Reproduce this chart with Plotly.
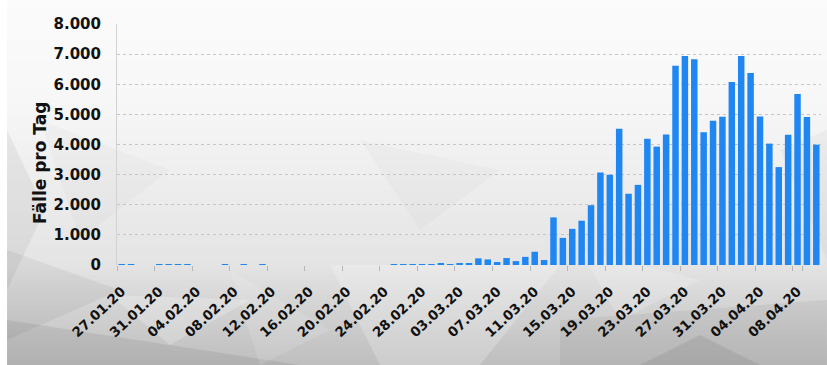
import pandas as pd
import plotly.graph_objects as go

# Daily reported cases, 27.01.2020 - 10.04.2020
dates = pd.date_range("2020-01-27", "2020-04-10", freq="D").strftime("%d.%m.%y").tolist()
cases = [
    1, 3, 0, 0, 1, 3, 2, 2, 0, 0,            # 27.01 - 05.02
    0, 1, 0, 1, 0, 2, 0, 0, 0, 0,            # 06.02 - 15.02
    0, 0, 0, 0, 0, 0, 0, 0, 0, 12,           # 16.02 - 25.02
    14, 19, 10, 31, 45, 29, 37, 62, 220, 185,  # 26.02 - 06.03
    100, 230, 130, 270, 440, 165, 1580, 900, 1200, 1470,  # 07.03 - 16.03
    1985, 3070, 2995, 4525, 2365, 2660, 4190, 3930, 4335, 6615,  # 17.03 - 26.03
    6935, 6830, 4405, 4790, 4925, 6075, 6935, 6370, 4930, 4030,  # 27.03 - 05.04
    3250, 4320, 5680, 4910, 3995,            # 06.04 - 10.04
]
tick_labels = dates[::4]

W, H = 827, 365
ML, MR, MT, MB = 117, 6, 24, 100
PW, PH = W - ML - MR, H - MT - MB

def px(x, y):
    """pixel position -> paper coordinates"""
    return (x - ML) / PW, (H - MB - y) / PH

def poly(points, color):
    pts = [px(x, y) for x, y in points]
    d = "M " + " L ".join(f"{a:.4f},{b:.4f}" for a, b in pts) + " Z"
    return dict(type="path", xref="paper", yref="paper", path=d,
                fillcolor=color, line=dict(width=0), layer="below")

shapes = []
# soft grey backdrop, brighter at the top
stops = [(0, 251), (100, 247), (160, 240), (265, 228), (300, 214), (365, 190)]
def grey_at(y):
    for (y0, g0), (y1, g1) in zip(stops, stops[1:]):
        if y0 <= y <= y1:
            return g0 + (g1 - g0) * (y - y0) / (y1 - y0)
    return stops[-1][1]

step = 5
for y in range(0, H, step):
    g = int(round(grey_at(y + step / 2)))
    shapes.append(poly([(7, y), (W, y), (W, y + step + 0.6), (7, y + step + 0.6)],
                       f"rgb({g},{g},{g})"))

# faceted low-poly overlay
facets = [
    ([(7, 130), (45, 210), (7, 290)], "rgba(0,0,0,0.05)"),
    ([(7, 250), (120, 290), (7, 340)], "rgba(0,0,0,0.05)"),
    ([(7, 320), (300, 365), (7, 365)], "rgba(0,0,0,0.07)"),
    ([(110, 295), (250, 300), (170, 345)], "rgba(255,255,255,0.22)"),
    ([(230, 270), (330, 330), (260, 365)], "rgba(255,255,255,0.12)"),
    ([(330, 265), (560, 265), (480, 365), (380, 365)], "rgba(255,255,255,0.22)"),
    ([(560, 320), (827, 300), (827, 365), (560, 365)], "rgba(0,0,0,0.05)"),
    ([(640, 365), (700, 335), (760, 365)], "rgba(0,0,0,0.07)"),
    ([(780, 150), (827, 130), (827, 260)], "rgba(0,0,0,0.03)"),
    ([(580, 250), (700, 280), (620, 320)], "rgba(255,255,255,0.18)"),
    ([(40, 120), (170, 170), (80, 240)], "rgba(0,0,0,0.02)"),
    ([(360, 140), (500, 170), (420, 230)], "rgba(0,0,0,0.02)"),
]
for pts, col in facets:
    shapes.append(poly(pts, col))

font_family = "DejaVu Sans"
title_xy = px(40, 163)

fig = go.Figure(go.Bar(
    x=dates, y=cases,
    marker=dict(color="#1f86f2", line=dict(width=0)),
    hoverinfo="x+y",
))

fig.update_layout(
    width=W, height=H,
    margin=dict(l=ML, r=MR, t=MT, b=MB, pad=0),
    paper_bgcolor="white",
    plot_bgcolor="rgba(0,0,0,0)",
    separators=",.",
    bargap=0.31,
    showlegend=False,
    shapes=shapes,
    font=dict(family=font_family, color="#111111"),
    xaxis=dict(
        type="category",
        range=[-0.5, len(dates) - 0.5],
        tickmode="array",
        tickvals=tick_labels,
        ticktext=tick_labels,
        tickson="boundaries",
        ticks="outside",
        ticklen=5,
        tickwidth=1,
        tickcolor="#b5b5b5",
        tickangle=-43,
        ticklabelstandoff=15,
        tickfont=dict(family=font_family, size=13.5, color="#111111", weight="bold"),
        showgrid=False,
        showline=False,
        zeroline=False,
    ),
    yaxis=dict(
        range=[0, 8000],
        tickmode="linear",
        tick0=0,
        dtick=1000,
        tickformat=",d",
        tickfont=dict(family=font_family, size=15, color="#111111", weight="bold"),
        ticklabelstandoff=12,
        showgrid=True,
        gridcolor="#c6c6c6",
        griddash="dot",
        gridwidth=1,
        zeroline=False,
        showline=True,
        linecolor="#d2d2d2",
        linewidth=1,
        ticks="",
    ),
    annotations=[dict(
        text="Fälle pro Tag",
        xref="paper", yref="paper",
        x=title_xy[0], y=title_xy[1],
        xanchor="center", yanchor="middle",
        textangle=-90, showarrow=False,
        font=dict(family=font_family, size=17, color="#111111", weight="bold"),
    )],
)

fig.write_html("out.html")
